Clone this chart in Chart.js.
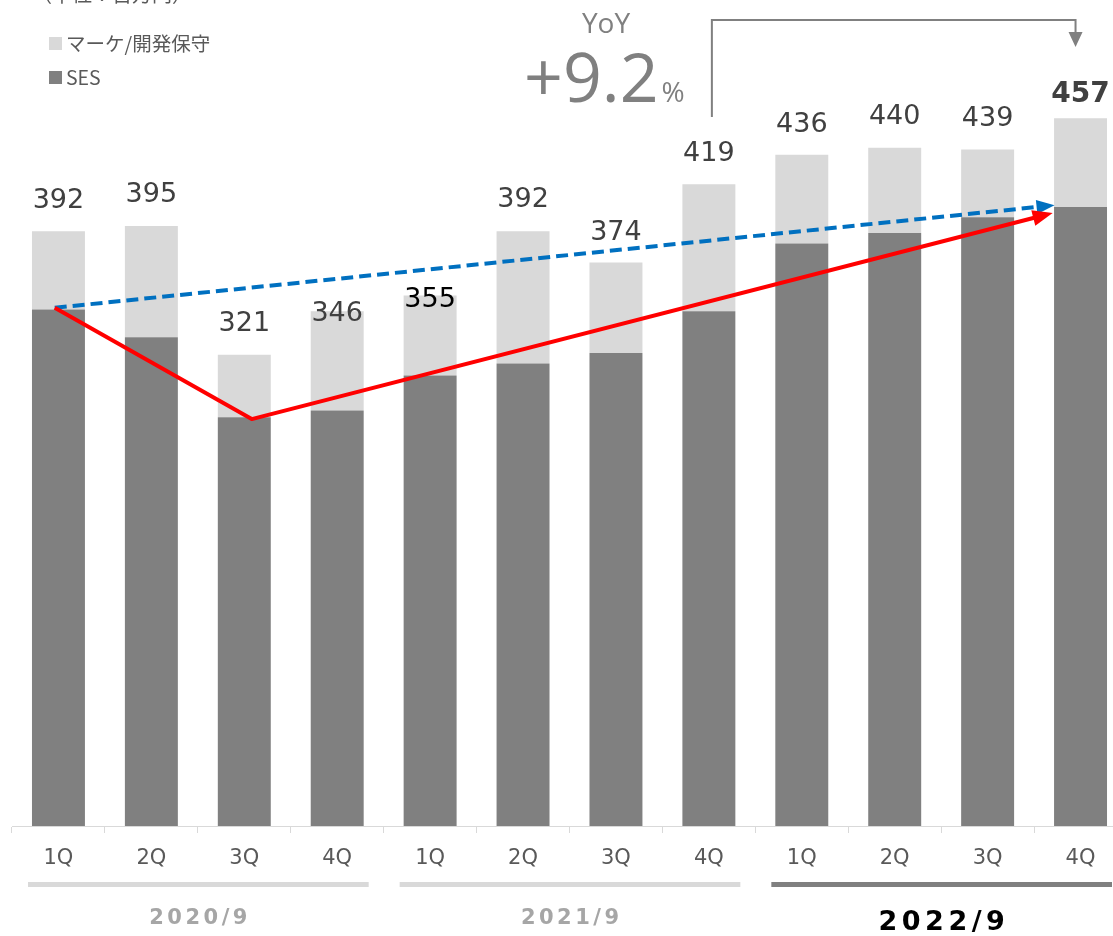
<!DOCTYPE html>
<html>
<head>
<meta charset="utf-8">
<script src="https://cdn.jsdelivr.net/npm/chart.js@4.4.1/dist/chart.umd.min.js"></script>
<style>
  html, body { margin: 0; padding: 0; background: #ffffff; overflow: hidden; }
  #wrap { width: 1113px; height: 936px; overflow: hidden; position: relative; }
  canvas { display: block; }
</style>
</head>
<body>
<div id="wrap"><canvas id="c" width="1130" height="936"></canvas></div>
<script>
// ---- data ----
const categories = ['1Q', '2Q', '3Q', '4Q', '1Q', '2Q', '3Q', '4Q', '1Q', '2Q', '3Q', '4Q'];
const fiscalYears = ['2020/9', '2021/9', '2022/9'];
const sesValues = [347, 331, 285, 289, 309, 316, 322, 346, 385, 391, 400, 406];
const marketValues = [45, 64, 36, 57, 46, 76, 52, 73, 51, 49, 39, 51];
const totalValues = [392, 395, 321, 346, 355, 392, 374, 419, 436, 440, 439, 457];
const seriesNames = ['マーケ/開発保守', 'SES'];
const unitText = '（単位：百万円）';
const yoyLabel = 'YoY';
const yoyValue = '+9.2';
const yoyUnit = '%';
// trend arrows: [category index, value]
const redTrend = [[-0.04, 348], [2.08, 284], [10.70, 402.5]];
const blueTrend = [[-0.04, 348], [10.72, 407]];

// ---- styles ----
const labelLift = [30, 31, 31, -3, -4, 31, 30, 30, 30, 31, 31, 24];
const labelColor = ['#404040', '#404040', '#404040', '#404040', '#000000', '#404040', '#404040', '#404040', '#404040', '#404040', '#404040', '#404040'];
const labelBold = [false, false, false, false, false, false, false, false, false, false, false, true];

function arrowHead(ctx, x1, y1, x2, y2, len, wid, color) {
  const a = Math.atan2(y2 - y1, x2 - x1);
  ctx.save();
  ctx.fillStyle = color;
  ctx.translate(x2, y2);
  ctx.rotate(a);
  ctx.beginPath();
  ctx.moveTo(0, 0);
  ctx.lineTo(-len, -wid / 2);
  ctx.lineTo(-len, wid / 2);
  ctx.closePath();
  ctx.fill();
  ctx.restore();
}

function spacedText(ctx, text, cx, cy, spacing) {
  let w = 0;
  const ws = [];
  for (const ch of text) { const m = ctx.measureText(ch).width; ws.push(m); w += m; }
  w += spacing * (ws.length - 1);
  let x = cx - w / 2;
  ctx.textAlign = 'left';
  let i = 0;
  for (const ch of text) { ctx.fillText(ch, x, cy); x += ws[i++] + spacing; }
}

const overlay = {
  id: 'overlay',
  afterDatasetsDraw(chart) {
    const ctx = chart.ctx;
    const xs = chart.scales.x, ys = chart.scales.y;

    // total labels
    ctx.save();
    ctx.textAlign = 'center';
    ctx.textBaseline = 'middle';
    totalValues.forEach((v, i) => {
      const x = xs.getPixelForValue(i);
      const y = ys.getPixelForValue(sesValues[i] + marketValues[i]) - labelLift[i];
      ctx.font = (labelBold[i] ? 'bold 28px' : '27px') + ' "DejaVu Sans", sans-serif';
      ctx.fillStyle = labelColor[i];
      ctx.fillText(String(v), x, y);
    });
    ctx.restore();

    // trend lines
    const pt = p => [xs.getPixelForValue(p[0]), ys.getPixelForValue(p[1])];
    ctx.save();
    ctx.lineWidth = 4;
    ctx.lineJoin = 'round';
    // blue dashed
    ctx.strokeStyle = '#0070c0';
    ctx.setLineDash([12, 6]);
    ctx.beginPath();
    const b = blueTrend.map(pt);
    const bEnd = b[b.length - 1], bPrev = b[b.length - 2];
    const ba = Math.atan2(bEnd[1] - bPrev[1], bEnd[0] - bPrev[0]);
    ctx.moveTo(b[0][0], b[0][1]);
    for (let i = 1; i < b.length - 1; i++) ctx.lineTo(b[i][0], b[i][1]);
    ctx.lineTo(bEnd[0] - 16 * Math.cos(ba), bEnd[1] - 16 * Math.sin(ba));
    ctx.stroke();
    ctx.setLineDash([]);
    arrowHead(ctx, bPrev[0], bPrev[1], bEnd[0], bEnd[1], 18, 14, '#0070c0');
    // red solid
    ctx.strokeStyle = '#ff0000';
    const r = redTrend.map(pt);
    const rEnd = r[r.length - 1], rPrev = r[r.length - 2];
    const ra = Math.atan2(rEnd[1] - rPrev[1], rEnd[0] - rPrev[0]);
    ctx.beginPath();
    ctx.moveTo(r[0][0], r[0][1]);
    for (let i = 1; i < r.length - 1; i++) ctx.lineTo(r[i][0], r[i][1]);
    ctx.lineTo(rEnd[0] - 14 * Math.cos(ra), rEnd[1] - 14 * Math.sin(ra));
    ctx.stroke();
    arrowHead(ctx, rPrev[0], rPrev[1], rEnd[0], rEnd[1], 20, 16, '#ff0000');
    ctx.restore();

    // YoY bracket
    ctx.save();
    const bx1 = xs.getPixelForValue(7) + 3;
    const bx2 = xs.getPixelForValue(11) - 5;
    ctx.strokeStyle = '#808080';
    ctx.lineWidth = 2;
    ctx.beginPath();
    ctx.moveTo(bx1, 117);
    ctx.lineTo(bx1, 20);
    ctx.lineTo(bx2, 20);
    ctx.lineTo(bx2, 34);
    ctx.stroke();
    ctx.fillStyle = '#808080';
    ctx.beginPath();
    ctx.moveTo(bx2 - 7, 32);
    ctx.lineTo(bx2 + 7, 32);
    ctx.lineTo(bx2, 47);
    ctx.closePath();
    ctx.fill();
    // YoY text
    ctx.fillStyle = '#808080';
    ctx.textBaseline = 'alphabetic';
    ctx.textAlign = 'center';
    ctx.font = '28px "Open Sans", sans-serif';
    ctx.fillText(yoyLabel, 606, 33);
    ctx.textAlign = 'left';
    ctx.font = '68px "Open Sans", sans-serif';
    const vx = 524;
    ctx.fillText(yoyValue, vx, 102);
    const vw = ctx.measureText(yoyValue).width;
    ctx.font = '28px "Open Sans", sans-serif';
    ctx.fillText(yoyUnit, vx + vw + 3, 102);
    ctx.restore();

    // legend + unit
    ctx.save();
    ctx.textAlign = 'left';
    ctx.font = '20px "Noto Sans CJK JP", sans-serif';
    ctx.fillStyle = '#595959';
    ctx.textBaseline = 'alphabetic';
    ctx.fillText(unitText, 32, 2);
    ctx.textBaseline = 'middle';
    ctx.font = '19.5px "Noto Sans CJK JP", sans-serif';
    const legendColors = ['#d9d9d9', '#808080'];
    const legendY = [43, 77];
    seriesNames.forEach((n, i) => {
      ctx.fillStyle = legendColors[i];
      ctx.fillRect(49, legendY[i] - 6, 13, 13);
      ctx.fillStyle = '#595959';
      ctx.fillText(n, 66, legendY[i] + 1);
    });
    ctx.restore();
  },
  afterDraw(chart) {
    const ctx = chart.ctx;
    const xs = chart.scales.x;
    const catW = xs.getPixelForValue(1) - xs.getPixelForValue(0);
    ctx.save();
    const groupColors = ['#d9d9d9', '#d9d9d9', '#808080'];
    fiscalYears.forEach((fy, g) => {
      const left = xs.getPixelForValue(g * 4) - catW / 2 + 16;
      const right = xs.getPixelForValue(g * 4 + 3) + catW / 2 - 15;
      ctx.fillStyle = groupColors[g];
      ctx.fillRect(left, 882, right - left, 5);
      const cx = (left + right) / 2;
      ctx.textBaseline = 'middle';
      if (g < 2) {
        ctx.font = 'bold 21px "DejaVu Sans", sans-serif';
        ctx.fillStyle = '#a6a6a6';
        spacedText(ctx, fy, cx, 919, 3.5);
      } else {
        ctx.font = 'bold 27px "DejaVu Sans", sans-serif';
        ctx.fillStyle = '#000000';
        spacedText(ctx, fy, cx, 923, 4.5);
      }
    });
    ctx.restore();
  }
};

new Chart(document.getElementById('c'), {
  type: 'bar',
  data: {
    labels: categories,
    datasets: [
      { label: seriesNames[1], data: sesValues, backgroundColor: '#808080', borderWidth: 0 },
      { label: seriesNames[0], data: marketValues, backgroundColor: '#d9d9d9', borderWidth: 0 }
    ]
  },
  options: {
    responsive: false,
    animation: false,
    devicePixelRatio: 1,
    layout: { padding: { left: 12, right: 3, top: 0, bottom: 0 } },
    plugins: { legend: { display: false }, tooltip: { enabled: false } },
    datasets: { bar: { barPercentage: 0.57, categoryPercentage: 1.0 } },
    scales: {
      x: {
        stacked: true,
        offset: true,
        afterFit(scale) { scale.height = 110; },
        grid: { offset: true, drawOnChartArea: false, drawTicks: true, tickLength: 7, color: '#d9d9d9', lineWidth: 1 },
        border: { display: true, color: '#d9d9d9', width: 1 },
        ticks: {
          autoSkip: false, maxRotation: 0, padding: 13,
          color: '#595959',
          font: { family: '"DejaVu Sans", sans-serif', size: 21 }
        }
      },
      y: {
        stacked: true,
        display: false,
        min: 50,
        max: 525
      }
    }
  },
  plugins: [overlay]
});
</script>
</body>
</html>
